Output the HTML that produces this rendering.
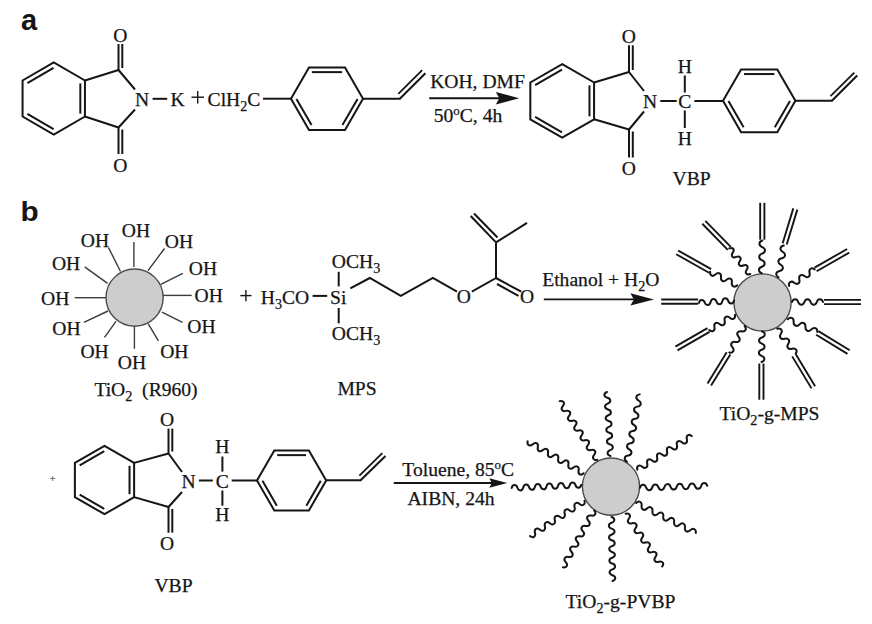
<!DOCTYPE html>
<html><head><meta charset="utf-8"><style>
html,body{margin:0;padding:0;background:#fff;}
svg{display:block;}
</style></head><body>
<svg width="872" height="624" viewBox="0 0 872 624">
<rect width="872" height="624" fill="#fff"/>
<text x="21" y="29.8" font-family="Liberation Sans" font-size="29" font-weight="bold" text-anchor="start" fill="#151515" stroke="#151515" stroke-width="0" >a</text>
<polyline points="53.75,62.5 84.93,80.5 84.93,116.5 53.75,134.5 22.57,116.5 22.57,80.5 53.75,62.5 84.93,80.5" fill="none" stroke="#151515" stroke-width="2.0" stroke-linejoin="miter"/>
<line x1="27.38" y1="83.03" x2="53.54" y2="67.93" stroke="#151515" stroke-width="2.0" stroke-linecap="butt"/>
<line x1="80.33" y1="83.4" x2="80.33" y2="113.6" stroke="#151515" stroke-width="2.0" stroke-linecap="butt"/>
<line x1="53.54" y1="129.07" x2="27.38" y2="113.97" stroke="#151515" stroke-width="2.0" stroke-linecap="butt"/>
<line x1="84.93" y1="80.5" x2="118.5" y2="70" stroke="#151515" stroke-width="2.0" stroke-linecap="butt"/>
<line x1="84.93" y1="116.5" x2="118.5" y2="127.5" stroke="#151515" stroke-width="2.0" stroke-linecap="butt"/>
<line x1="118.5" y1="70" x2="135" y2="89.5" stroke="#151515" stroke-width="2.0" stroke-linecap="butt"/>
<line x1="118.5" y1="127.5" x2="135" y2="109.5" stroke="#151515" stroke-width="2.0" stroke-linecap="butt"/>
<line x1="118.5" y1="70.5" x2="118.5" y2="44" stroke="#151515" stroke-width="2.0" stroke-linecap="butt"/>
<line x1="122.3" y1="68" x2="122.3" y2="44" stroke="#151515" stroke-width="2.0" stroke-linecap="butt"/>
<line x1="118.5" y1="127" x2="118.5" y2="154" stroke="#151515" stroke-width="2.0" stroke-linecap="butt"/>
<line x1="122.3" y1="129.5" x2="122.3" y2="154" stroke="#151515" stroke-width="2.0" stroke-linecap="butt"/>
<text x="120.4" y="41.5" font-family="Liberation Serif" font-size="19.6" font-weight="normal" text-anchor="middle" fill="#151515" stroke="#151515" stroke-width="0.25" >O</text>
<text x="120.4" y="171.5" font-family="Liberation Serif" font-size="19.6" font-weight="normal" text-anchor="middle" fill="#151515" stroke="#151515" stroke-width="0.25" >O</text>
<text x="142.2" y="106" font-family="Liberation Serif" font-size="19.6" font-weight="normal" text-anchor="middle" fill="#151515" stroke="#151515" stroke-width="0.25" >N</text>
<line x1="152.6" y1="98.8" x2="167.2" y2="98.8" stroke="#151515" stroke-width="2.0" stroke-linecap="butt"/>
<text x="177.6" y="106" font-family="Liberation Serif" font-size="19.6" font-weight="normal" text-anchor="middle" fill="#151515" stroke="#151515" stroke-width="0.25" >K</text>
<line x1="191.5" y1="97.2" x2="204" y2="97.2" stroke="#151515" stroke-width="1.4" stroke-linecap="butt"/>
<line x1="197.7" y1="91" x2="197.7" y2="103.4" stroke="#151515" stroke-width="1.4" stroke-linecap="butt"/>
<text x="234" y="106" font-family="Liberation Serif" font-size="19.6" font-weight="normal" text-anchor="middle" fill="#151515" stroke="#151515" stroke-width="0.25" >ClH<tspan dy="5" font-size="14.11">2</tspan><tspan dy="-5">​</tspan>C</text>
<line x1="263" y1="98.7" x2="291" y2="98.7" stroke="#151515" stroke-width="2.0" stroke-linecap="butt"/>
<polyline points="291,98.7 309,67.52 345,67.52 363,98.7 345,129.88 309,129.88 291,98.7 309,67.52" fill="none" stroke="#151515" stroke-width="2.0" stroke-linejoin="miter"/>
<line x1="311.9" y1="72.12" x2="342.1" y2="72.12" stroke="#151515" stroke-width="2.0" stroke-linecap="butt"/>
<line x1="357.57" y1="98.91" x2="342.47" y2="125.07" stroke="#151515" stroke-width="2.0" stroke-linecap="butt"/>
<line x1="311.53" y1="125.07" x2="296.43" y2="98.91" stroke="#151515" stroke-width="2.0" stroke-linecap="butt"/>
<line x1="363" y1="98.7" x2="400.5" y2="98.7" stroke="#151515" stroke-width="2.0" stroke-linecap="butt"/>
<line x1="399.8" y1="98.7" x2="425.4" y2="73.3" stroke="#151515" stroke-width="2.0" stroke-linecap="butt"/>
<line x1="398.3" y1="93.8" x2="422.2" y2="70.1" stroke="#151515" stroke-width="1.8" stroke-linecap="butt"/>
<line x1="429.2" y1="98.2" x2="500.8" y2="98.2" stroke="#151515" stroke-width="1.9" stroke-linecap="butt"/>
<polygon points="519.3,98.2 495.8,92 499.3,98.2 495.8,104.4" fill="#151515"/>
<text x="477.5" y="87.8" font-family="Liberation Serif" font-size="19.6" font-weight="normal" text-anchor="middle" fill="#151515" stroke="#151515" stroke-width="0.25" >KOH, DMF</text>
<text x="468" y="121.7" font-family="Liberation Serif" font-size="19.6" font-weight="normal" text-anchor="middle" fill="#151515" stroke="#151515" stroke-width="0.25" >50<tspan dy="-7" font-size="12.94">o</tspan><tspan dy="7">​</tspan>C, 4h</text>
<polyline points="562.2,64.1 594.07,82.5 594.07,119.3 562.2,137.7 530.33,119.3 530.33,82.5 562.2,64.1 594.07,82.5" fill="none" stroke="#151515" stroke-width="2.0" stroke-linejoin="miter"/>
<line x1="535.14" y1="85.03" x2="561.99" y2="69.53" stroke="#151515" stroke-width="2.0" stroke-linecap="butt"/>
<line x1="589.47" y1="85.4" x2="589.47" y2="116.4" stroke="#151515" stroke-width="2.0" stroke-linecap="butt"/>
<line x1="561.99" y1="132.27" x2="535.14" y2="116.77" stroke="#151515" stroke-width="2.0" stroke-linecap="butt"/>
<line x1="594.07" y1="82.5" x2="629" y2="72" stroke="#151515" stroke-width="2.0" stroke-linecap="butt"/>
<line x1="594.07" y1="119.3" x2="629" y2="129.5" stroke="#151515" stroke-width="2.0" stroke-linecap="butt"/>
<line x1="629" y1="72" x2="644" y2="91" stroke="#151515" stroke-width="2.0" stroke-linecap="butt"/>
<line x1="629" y1="129.5" x2="644" y2="111.5" stroke="#151515" stroke-width="2.0" stroke-linecap="butt"/>
<line x1="629" y1="72.5" x2="629" y2="45.3" stroke="#151515" stroke-width="2.0" stroke-linecap="butt"/>
<line x1="632.8" y1="70" x2="632.8" y2="45.3" stroke="#151515" stroke-width="2.0" stroke-linecap="butt"/>
<line x1="629" y1="129" x2="629" y2="157.5" stroke="#151515" stroke-width="2.0" stroke-linecap="butt"/>
<line x1="632.8" y1="131.5" x2="632.8" y2="157.5" stroke="#151515" stroke-width="2.0" stroke-linecap="butt"/>
<text x="628.8" y="42.8" font-family="Liberation Serif" font-size="19.6" font-weight="normal" text-anchor="middle" fill="#151515" stroke="#151515" stroke-width="0.25" >O</text>
<text x="628.8" y="175" font-family="Liberation Serif" font-size="19.6" font-weight="normal" text-anchor="middle" fill="#151515" stroke="#151515" stroke-width="0.25" >O</text>
<text x="650" y="108.2" font-family="Liberation Serif" font-size="19.6" font-weight="normal" text-anchor="middle" fill="#151515" stroke="#151515" stroke-width="0.25" >N</text>
<line x1="660.3" y1="101" x2="676.7" y2="101" stroke="#151515" stroke-width="2.0" stroke-linecap="butt"/>
<text x="684.8" y="108" font-family="Liberation Serif" font-size="19.6" font-weight="normal" text-anchor="middle" fill="#151515" stroke="#151515" stroke-width="0.25" >C</text>
<text x="684.8" y="73" font-family="Liberation Serif" font-size="19.6" font-weight="normal" text-anchor="middle" fill="#151515" stroke="#151515" stroke-width="0.25" >H</text>
<text x="684.8" y="145" font-family="Liberation Serif" font-size="19.6" font-weight="normal" text-anchor="middle" fill="#151515" stroke="#151515" stroke-width="0.25" >H</text>
<line x1="684.8" y1="75.5" x2="684.8" y2="92.5" stroke="#151515" stroke-width="2.0" stroke-linecap="butt"/>
<line x1="684.8" y1="110.5" x2="684.8" y2="128" stroke="#151515" stroke-width="2.0" stroke-linecap="butt"/>
<line x1="694.4" y1="101" x2="723" y2="101" stroke="#151515" stroke-width="2.0" stroke-linecap="butt"/>
<polyline points="723,100.8 741.1,69.45 777.3,69.45 795.4,100.8 777.3,132.15 741.1,132.15 723,100.8 741.1,69.45" fill="none" stroke="#151515" stroke-width="2.0" stroke-linejoin="miter"/>
<line x1="744" y1="74.05" x2="774.4" y2="74.05" stroke="#151515" stroke-width="2.0" stroke-linecap="butt"/>
<line x1="789.97" y1="101.01" x2="774.77" y2="127.34" stroke="#151515" stroke-width="2.0" stroke-linecap="butt"/>
<line x1="743.63" y1="127.34" x2="728.43" y2="101.01" stroke="#151515" stroke-width="2.0" stroke-linecap="butt"/>
<line x1="795.4" y1="100.8" x2="832.6" y2="100.8" stroke="#151515" stroke-width="2.0" stroke-linecap="butt"/>
<line x1="831.9" y1="100.8" x2="857.2" y2="75.5" stroke="#151515" stroke-width="2.0" stroke-linecap="butt"/>
<line x1="830.5" y1="96.1" x2="854.3" y2="72.6" stroke="#151515" stroke-width="1.8" stroke-linecap="butt"/>
<text x="691.6" y="184.9" font-family="Liberation Serif" font-size="19.6" font-weight="normal" text-anchor="middle" fill="#151515" stroke="#151515" stroke-width="0.25" >VBP</text>
<text transform="translate(20.6,221.3) scale(1.1,1)" x="0" y="0" font-family="Liberation Sans" font-size="27" font-weight="bold" fill="#151515">b</text>
<line x1="133.9" y1="266.9" x2="133.9" y2="242.1" stroke="#3c3c3c" stroke-width="1.4" stroke-linecap="butt"/>
<line x1="148" y1="270.6" x2="164.5" y2="248.5" stroke="#3c3c3c" stroke-width="1.4" stroke-linecap="butt"/>
<line x1="160.8" y1="284.3" x2="182.8" y2="273.3" stroke="#3c3c3c" stroke-width="1.4" stroke-linecap="butt"/>
<line x1="163" y1="295.4" x2="191.7" y2="295.4" stroke="#3c3c3c" stroke-width="1.4" stroke-linecap="butt"/>
<line x1="161.9" y1="312.1" x2="182.5" y2="322.4" stroke="#3c3c3c" stroke-width="1.4" stroke-linecap="butt"/>
<line x1="148.1" y1="323.6" x2="158.4" y2="340.8" stroke="#3c3c3c" stroke-width="1.4" stroke-linecap="butt"/>
<line x1="134.4" y1="327" x2="134.4" y2="348.8" stroke="#3c3c3c" stroke-width="1.4" stroke-linecap="butt"/>
<line x1="116" y1="321.3" x2="104.5" y2="337.3" stroke="#3c3c3c" stroke-width="1.4" stroke-linecap="butt"/>
<line x1="108" y1="311" x2="83.9" y2="322.4" stroke="#3c3c3c" stroke-width="1.4" stroke-linecap="butt"/>
<line x1="105.7" y1="297.7" x2="74.7" y2="297.7" stroke="#3c3c3c" stroke-width="1.4" stroke-linecap="butt"/>
<line x1="107.6" y1="283.4" x2="84.7" y2="266.9" stroke="#3c3c3c" stroke-width="1.4" stroke-linecap="butt"/>
<line x1="120.5" y1="271.5" x2="108.5" y2="247.6" stroke="#3c3c3c" stroke-width="1.4" stroke-linecap="butt"/>
<circle cx="134.6" cy="297.6" r="28.6" fill="#cdcdcd" stroke="#4a4a4a" stroke-width="1.4"/>
<text x="136" y="236.6" font-family="Liberation Serif" font-size="19.6" font-weight="normal" text-anchor="middle" fill="#151515" stroke="#151515" stroke-width="0.25" >OH</text>
<text x="179" y="247.6" font-family="Liberation Serif" font-size="19.6" font-weight="normal" text-anchor="middle" fill="#151515" stroke="#151515" stroke-width="0.25" >OH</text>
<text x="203" y="275.1" font-family="Liberation Serif" font-size="19.6" font-weight="normal" text-anchor="middle" fill="#151515" stroke="#151515" stroke-width="0.25" >OH</text>
<text x="208.7" y="302.2" font-family="Liberation Serif" font-size="19.6" font-weight="normal" text-anchor="middle" fill="#151515" stroke="#151515" stroke-width="0.25" >OH</text>
<text x="201.5" y="332.8" font-family="Liberation Serif" font-size="19.6" font-weight="normal" text-anchor="middle" fill="#151515" stroke="#151515" stroke-width="0.25" >OH</text>
<text x="174.3" y="357.5" font-family="Liberation Serif" font-size="19.6" font-weight="normal" text-anchor="middle" fill="#151515" stroke="#151515" stroke-width="0.25" >OH</text>
<text x="132" y="369" font-family="Liberation Serif" font-size="19.6" font-weight="normal" text-anchor="middle" fill="#151515" stroke="#151515" stroke-width="0.25" >OH</text>
<text x="94.6" y="357.5" font-family="Liberation Serif" font-size="19.6" font-weight="normal" text-anchor="middle" fill="#151515" stroke="#151515" stroke-width="0.25" >OH</text>
<text x="66.4" y="335" font-family="Liberation Serif" font-size="19.6" font-weight="normal" text-anchor="middle" fill="#151515" stroke="#151515" stroke-width="0.25" >OH</text>
<text x="55.2" y="305.2" font-family="Liberation Serif" font-size="19.6" font-weight="normal" text-anchor="middle" fill="#151515" stroke="#151515" stroke-width="0.25" >OH</text>
<text x="66.1" y="269.8" font-family="Liberation Serif" font-size="19.6" font-weight="normal" text-anchor="middle" fill="#151515" stroke="#151515" stroke-width="0.25" >OH</text>
<text x="95" y="246.7" font-family="Liberation Serif" font-size="19.6" font-weight="normal" text-anchor="middle" fill="#151515" stroke="#151515" stroke-width="0.25" >OH</text>
<text x="146" y="396.1" font-family="Liberation Serif" font-size="19.6" font-weight="normal" text-anchor="middle" fill="#151515" stroke="#151515" stroke-width="0.25" xml:space="preserve">TiO<tspan dy="5" font-size="14.11">2</tspan><tspan dy="-5">​</tspan>  (R960)</text>
<line x1="240.3" y1="295.6" x2="251.5" y2="295.6" stroke="#151515" stroke-width="1.4" stroke-linecap="butt"/>
<line x1="245.9" y1="290" x2="245.9" y2="301.2" stroke="#151515" stroke-width="1.4" stroke-linecap="butt"/>
<text x="285" y="304" font-family="Liberation Serif" font-size="19.6" font-weight="normal" text-anchor="middle" fill="#151515" stroke="#151515" stroke-width="0.25" >H<tspan dy="5" font-size="14.11">3</tspan><tspan dy="-5">​</tspan>CO</text>
<line x1="312.6" y1="295.9" x2="327.2" y2="295.9" stroke="#151515" stroke-width="2.0" stroke-linecap="butt"/>
<text x="338.2" y="304" font-family="Liberation Serif" font-size="19.6" font-weight="normal" text-anchor="middle" fill="#151515" stroke="#151515" stroke-width="0.25" >Si</text>
<line x1="338.7" y1="271.8" x2="338.7" y2="286.4" stroke="#151515" stroke-width="2.0" stroke-linecap="butt"/>
<line x1="338.7" y1="308" x2="338.7" y2="323.4" stroke="#151515" stroke-width="2.0" stroke-linecap="butt"/>
<text x="356" y="267.5" font-family="Liberation Serif" font-size="19.6" font-weight="normal" text-anchor="middle" fill="#151515" stroke="#151515" stroke-width="0.25" >OCH<tspan dy="5" font-size="14.11">3</tspan><tspan dy="-5">​</tspan></text>
<text x="356" y="340" font-family="Liberation Serif" font-size="19.6" font-weight="normal" text-anchor="middle" fill="#151515" stroke="#151515" stroke-width="0.25" >OCH<tspan dy="5" font-size="14.11">3</tspan><tspan dy="-5">​</tspan></text>
<polyline points="350.3,288.3 369.8,278 400.8,295.9 432.9,278 457,291.7" fill="none" stroke="#151515" stroke-width="2.0" stroke-linejoin="miter"/>
<text x="463.9" y="303.2" font-family="Liberation Serif" font-size="19.6" font-weight="normal" text-anchor="middle" fill="#151515" stroke="#151515" stroke-width="0.25" >O</text>
<line x1="471.9" y1="291.7" x2="496" y2="278" stroke="#151515" stroke-width="2.0" stroke-linecap="butt"/>
<line x1="496" y1="278" x2="521.2" y2="291.7" stroke="#151515" stroke-width="2.0" stroke-linecap="butt"/>
<line x1="497" y1="284" x2="518.5" y2="295.8" stroke="#151515" stroke-width="2.0" stroke-linecap="butt"/>
<text x="527" y="303.2" font-family="Liberation Serif" font-size="19.6" font-weight="normal" text-anchor="middle" fill="#151515" stroke="#151515" stroke-width="0.25" >O</text>
<line x1="496" y1="278" x2="496" y2="242.4" stroke="#151515" stroke-width="2.0" stroke-linecap="butt"/>
<line x1="496" y1="242.4" x2="527" y2="222.9" stroke="#151515" stroke-width="2.0" stroke-linecap="butt"/>
<line x1="496" y1="242.4" x2="470.7" y2="216" stroke="#151515" stroke-width="2.0" stroke-linecap="butt"/>
<line x1="497.5" y1="237.5" x2="474" y2="213.5" stroke="#151515" stroke-width="2.0" stroke-linecap="butt"/>
<text x="357" y="395.2" font-family="Liberation Serif" font-size="19.6" font-weight="normal" text-anchor="middle" fill="#151515" stroke="#151515" stroke-width="0.25" >MPS</text>
<line x1="543.8" y1="299.4" x2="635.4" y2="299.4" stroke="#151515" stroke-width="1.9" stroke-linecap="butt"/>
<polygon points="653.9,299.4 630.4,293.2 633.9,299.4 630.4,305.6" fill="#151515"/>
<text x="600.8" y="286.1" font-family="Liberation Serif" font-size="19.6" font-weight="normal" text-anchor="middle" fill="#151515" stroke="#151515" stroke-width="0.25" >Ethanol + H<tspan dy="5" font-size="14.11">2</tspan><tspan dy="-5">​</tspan>O</text>
<circle cx="762.5" cy="302.5" r="28.6" fill="#cdcdcd" stroke="#4a4a4a" stroke-width="1.4"/>
<path transform="translate(761.7,273.3) rotate(-88.95)" d="M0,0 c1.31,-3.73 5.25,-3.73 6.56,0 c1.31,3.73 5.25,3.73 6.56,0 c1.31,-3.73 5.25,-3.73 6.56,0 c1.31,3.73 5.25,3.73 6.56,0 c1.31,-3.73 5.25,-3.73 6.56,0" fill="none" stroke="#151515" stroke-width="2.0" stroke-linecap="round"/>
<line x1="760.2" y1="239.7" x2="760.2" y2="202.8" stroke="#151515" stroke-width="1.9" stroke-linecap="butt"/>
<line x1="764.4" y1="239.7" x2="764.4" y2="202.8" stroke="#151515" stroke-width="1.9" stroke-linecap="butt"/>
<path transform="translate(778.5,277.3) rotate(-80.51)" d="M0,0 c1.29,-3.73 5.14,-3.73 6.43,0 c1.29,3.73 5.14,3.73 6.43,0 c1.29,-3.73 5.14,-3.73 6.43,0 c1.29,3.73 5.14,3.73 6.43,0 c1.29,-3.73 5.14,-3.73 6.43,0" fill="none" stroke="#151515" stroke-width="2.0" stroke-linecap="round"/>
<line x1="782.69" y1="243.19" x2="793.29" y2="208.39" stroke="#151515" stroke-width="1.9" stroke-linecap="butt"/>
<line x1="786.71" y1="244.41" x2="797.31" y2="209.61" stroke="#151515" stroke-width="1.9" stroke-linecap="butt"/>
<path transform="translate(789.1,286.1) rotate(-33.12)" d="M0,0 c1.22,-3.73 4.89,-3.73 6.11,0 c1.22,3.73 4.89,3.73 6.11,0 c1.22,-3.73 4.89,-3.73 6.11,0 c1.22,3.73 4.89,3.73 6.11,0 c1.22,-3.73 4.89,-3.73 6.11,0" fill="none" stroke="#151515" stroke-width="2.0" stroke-linecap="round"/>
<line x1="814.56" y1="267.58" x2="847.16" y2="248.98" stroke="#151515" stroke-width="1.9" stroke-linecap="butt"/>
<line x1="816.64" y1="271.22" x2="849.24" y2="252.62" stroke="#151515" stroke-width="1.9" stroke-linecap="butt"/>
<path transform="translate(792,302) rotate(0)" d="M0,0 c1.24,-3.73 4.96,-3.73 6.2,0 c1.24,3.73 4.96,3.73 6.2,0 c1.24,-3.73 4.96,-3.73 6.2,0 c1.24,3.73 4.96,3.73 6.2,0 c1.24,-3.73 4.96,-3.73 6.2,0" fill="none" stroke="#151515" stroke-width="2.0" stroke-linecap="round"/>
<line x1="824" y1="299.9" x2="861" y2="299.9" stroke="#151515" stroke-width="1.9" stroke-linecap="butt"/>
<line x1="824" y1="304.1" x2="861" y2="304.1" stroke="#151515" stroke-width="1.9" stroke-linecap="butt"/>
<path transform="translate(787.7,319.2) rotate(23.39)" d="M0,0 c1.29,-3.73 5.16,-3.73 6.45,0 c1.29,3.73 5.16,3.73 6.45,0 c1.29,-3.73 5.16,-3.73 6.45,0 c1.29,3.73 5.16,3.73 6.45,0 c1.29,-3.73 5.16,-3.73 6.45,0" fill="none" stroke="#151515" stroke-width="2.0" stroke-linecap="round"/>
<line x1="818.4" y1="331.11" x2="849.7" y2="350.31" stroke="#151515" stroke-width="1.9" stroke-linecap="butt"/>
<line x1="816.2" y1="334.69" x2="847.5" y2="353.89" stroke="#151515" stroke-width="1.9" stroke-linecap="butt"/>
<path transform="translate(777.2,328.8) rotate(53.39)" d="M0,0 c1.24,-3.73 4.96,-3.73 6.2,0 c1.24,3.73 4.96,3.73 6.2,0 c1.24,-3.73 4.96,-3.73 6.2,0 c1.24,3.73 4.96,3.73 6.2,0 c1.24,-3.73 4.96,-3.73 6.2,0" fill="none" stroke="#151515" stroke-width="2.0" stroke-linecap="round"/>
<line x1="795.8" y1="354.22" x2="815.1" y2="386.22" stroke="#151515" stroke-width="1.9" stroke-linecap="butt"/>
<line x1="792.2" y1="356.38" x2="811.5" y2="388.38" stroke="#151515" stroke-width="1.9" stroke-linecap="butt"/>
<path transform="translate(762,331.3) rotate(90.93)" d="M0,0 c1.23,-3.73 4.91,-3.73 6.14,0 c1.23,3.73 4.91,3.73 6.14,0 c1.23,-3.73 4.91,-3.73 6.14,0 c1.23,3.73 4.91,3.73 6.14,0 c1.23,-3.73 4.91,-3.73 6.14,0" fill="none" stroke="#151515" stroke-width="2.0" stroke-linecap="round"/>
<line x1="763.5" y1="363.5" x2="763.5" y2="399.7" stroke="#151515" stroke-width="1.9" stroke-linecap="butt"/>
<line x1="759.3" y1="363.5" x2="759.3" y2="399.7" stroke="#151515" stroke-width="1.9" stroke-linecap="butt"/>
<path transform="translate(744.6,326) rotate(120)" d="M0,0 c1.22,-3.73 4.9,-3.73 6.12,0 c1.22,3.73 4.9,3.73 6.12,0 c1.22,-3.73 4.9,-3.73 6.12,0 c1.22,3.73 4.9,3.73 6.12,0 c1.22,-3.73 4.9,-3.73 6.12,0" fill="none" stroke="#151515" stroke-width="2.0" stroke-linecap="round"/>
<line x1="730.29" y1="354.4" x2="711.09" y2="385.6" stroke="#151515" stroke-width="1.9" stroke-linecap="butt"/>
<line x1="726.71" y1="352.2" x2="707.51" y2="383.4" stroke="#151515" stroke-width="1.9" stroke-linecap="butt"/>
<path transform="translate(734.9,314.8) rotate(149.3)" d="M0,0 c1.19,-3.73 4.76,-3.73 5.95,0 c1.19,3.73 4.76,3.73 5.95,0 c1.19,-3.73 4.76,-3.73 5.95,0 c1.19,3.73 4.76,3.73 5.95,0 c1.19,-3.73 4.76,-3.73 5.95,0" fill="none" stroke="#151515" stroke-width="2.0" stroke-linecap="round"/>
<line x1="709.55" y1="331.82" x2="677.45" y2="350.32" stroke="#151515" stroke-width="1.9" stroke-linecap="butt"/>
<line x1="707.45" y1="328.18" x2="675.35" y2="346.68" stroke="#151515" stroke-width="1.9" stroke-linecap="butt"/>
<path transform="translate(734.1,300.5) rotate(176.1)" d="M0,0 c1.18,-3.73 4.7,-3.73 5.88,0 c1.18,3.73 4.7,3.73 5.88,0 c1.18,-3.73 4.7,-3.73 5.88,0 c1.18,3.73 4.7,3.73 5.88,0 c1.18,-3.73 4.7,-3.73 5.88,0 c1.18,3.73 4.7,3.73 5.88,0" fill="none" stroke="#151515" stroke-width="2.0" stroke-linecap="round"/>
<line x1="698.1" y1="303.7" x2="661.2" y2="303.7" stroke="#151515" stroke-width="1.9" stroke-linecap="butt"/>
<line x1="698.1" y1="299.5" x2="661.2" y2="299.5" stroke="#151515" stroke-width="1.9" stroke-linecap="butt"/>
<path transform="translate(737.3,285.3) rotate(-153.43)" d="M0,0 c1.22,-3.73 4.87,-3.73 6.08,0 c1.22,3.73 4.87,3.73 6.08,0 c1.22,-3.73 4.87,-3.73 6.08,0 c1.22,3.73 4.87,3.73 6.08,0 c1.22,-3.73 4.87,-3.73 6.08,0" fill="none" stroke="#151515" stroke-width="2.0" stroke-linecap="round"/>
<line x1="709.07" y1="272.73" x2="676.17" y2="254.23" stroke="#151515" stroke-width="1.9" stroke-linecap="butt"/>
<line x1="711.13" y1="269.07" x2="678.23" y2="250.57" stroke="#151515" stroke-width="1.9" stroke-linecap="butt"/>
<path transform="translate(750.2,274) rotate(-129.23)" d="M0,0 c1.1,-3.73 4.41,-3.73 5.51,0 c1.1,3.73 4.41,3.73 5.51,0 c1.1,-3.73 4.41,-3.73 5.51,0 c1.1,3.73 4.41,3.73 5.51,0 c1.1,-3.73 4.41,-3.73 5.51,0 c1.1,3.73 4.41,3.73 5.51,0" fill="none" stroke="#151515" stroke-width="2.0" stroke-linecap="round"/>
<line x1="727.8" y1="249.87" x2="702.3" y2="223.77" stroke="#151515" stroke-width="1.9" stroke-linecap="butt"/>
<line x1="730.8" y1="246.93" x2="705.3" y2="220.83" stroke="#151515" stroke-width="1.9" stroke-linecap="butt"/>
<text x="769.5" y="420.3" font-family="Liberation Serif" font-size="19.6" font-weight="normal" text-anchor="middle" fill="#151515" stroke="#151515" stroke-width="0.25" >TiO<tspan dy="5" font-size="14.11">2</tspan><tspan dy="-5">​</tspan>-g-MPS</text>
<text x="52.5" y="482" font-family="Liberation Serif" font-size="10" font-weight="normal" text-anchor="middle" fill="#555" stroke="#555" stroke-width="0.25" >+</text>
<polyline points="104.5,445.8 134.12,462.9 134.12,497.1 104.5,514.2 74.88,497.1 74.88,462.9 104.5,445.8 134.12,462.9" fill="none" stroke="#151515" stroke-width="2.0" stroke-linejoin="miter"/>
<line x1="79.69" y1="465.43" x2="104.29" y2="451.23" stroke="#151515" stroke-width="2.0" stroke-linecap="butt"/>
<line x1="129.52" y1="465.8" x2="129.52" y2="494.2" stroke="#151515" stroke-width="2.0" stroke-linecap="butt"/>
<line x1="104.29" y1="508.77" x2="79.69" y2="494.57" stroke="#151515" stroke-width="2.0" stroke-linecap="butt"/>
<line x1="134.12" y1="462.9" x2="168.5" y2="453.5" stroke="#151515" stroke-width="2.0" stroke-linecap="butt"/>
<line x1="134.12" y1="497.1" x2="168.5" y2="507" stroke="#151515" stroke-width="2.0" stroke-linecap="butt"/>
<line x1="168.5" y1="453.5" x2="182" y2="472" stroke="#151515" stroke-width="2.0" stroke-linecap="butt"/>
<line x1="168.5" y1="507" x2="182" y2="492" stroke="#151515" stroke-width="2.0" stroke-linecap="butt"/>
<line x1="168.5" y1="454" x2="168.5" y2="428.6" stroke="#151515" stroke-width="2.0" stroke-linecap="butt"/>
<line x1="172.3" y1="451.5" x2="172.3" y2="428.6" stroke="#151515" stroke-width="2.0" stroke-linecap="butt"/>
<line x1="168.5" y1="506.5" x2="168.5" y2="532.7" stroke="#151515" stroke-width="2.0" stroke-linecap="butt"/>
<line x1="172.3" y1="509" x2="172.3" y2="532.7" stroke="#151515" stroke-width="2.0" stroke-linecap="butt"/>
<text x="167" y="426.1" font-family="Liberation Serif" font-size="19.6" font-weight="normal" text-anchor="middle" fill="#151515" stroke="#151515" stroke-width="0.25" >O</text>
<text x="167" y="550.2" font-family="Liberation Serif" font-size="19.6" font-weight="normal" text-anchor="middle" fill="#151515" stroke="#151515" stroke-width="0.25" >O</text>
<text x="188.5" y="488.2" font-family="Liberation Serif" font-size="19.6" font-weight="normal" text-anchor="middle" fill="#151515" stroke="#151515" stroke-width="0.25" >N</text>
<line x1="198.9" y1="480.5" x2="212.8" y2="480.5" stroke="#151515" stroke-width="2.0" stroke-linecap="butt"/>
<text x="222.4" y="488.2" font-family="Liberation Serif" font-size="19.6" font-weight="normal" text-anchor="middle" fill="#151515" stroke="#151515" stroke-width="0.25" >C</text>
<text x="222.4" y="453" font-family="Liberation Serif" font-size="19.6" font-weight="normal" text-anchor="middle" fill="#151515" stroke="#151515" stroke-width="0.25" >H</text>
<text x="222.4" y="521" font-family="Liberation Serif" font-size="19.6" font-weight="normal" text-anchor="middle" fill="#151515" stroke="#151515" stroke-width="0.25" >H</text>
<line x1="222.4" y1="456.5" x2="222.4" y2="471.6" stroke="#151515" stroke-width="2.0" stroke-linecap="butt"/>
<line x1="222.4" y1="490.5" x2="222.4" y2="505.7" stroke="#151515" stroke-width="2.0" stroke-linecap="butt"/>
<line x1="231.7" y1="480.5" x2="257" y2="480.5" stroke="#151515" stroke-width="2.0" stroke-linecap="butt"/>
<polyline points="257,480.5 274.3,450.54 308.9,450.54 326.2,480.5 308.9,510.46 274.3,510.46 257,480.5 274.3,450.54" fill="none" stroke="#151515" stroke-width="2.0" stroke-linejoin="miter"/>
<line x1="277.2" y1="455.14" x2="306" y2="455.14" stroke="#151515" stroke-width="2.0" stroke-linecap="butt"/>
<line x1="320.77" y1="480.71" x2="306.37" y2="505.65" stroke="#151515" stroke-width="2.0" stroke-linecap="butt"/>
<line x1="276.83" y1="505.65" x2="262.43" y2="480.71" stroke="#151515" stroke-width="2.0" stroke-linecap="butt"/>
<line x1="326.3" y1="480.3" x2="361.3" y2="480.3" stroke="#151515" stroke-width="2.0" stroke-linecap="butt"/>
<line x1="360.6" y1="480.3" x2="385.5" y2="456" stroke="#151515" stroke-width="2.0" stroke-linecap="butt"/>
<line x1="359.4" y1="475.7" x2="382.3" y2="453.2" stroke="#151515" stroke-width="1.8" stroke-linecap="butt"/>
<text x="173.5" y="591.5" font-family="Liberation Serif" font-size="19.6" font-weight="normal" text-anchor="middle" fill="#151515" stroke="#151515" stroke-width="0.25" >VBP</text>
<line x1="393.8" y1="483" x2="493.3" y2="483" stroke="#151515" stroke-width="1.8" stroke-linecap="butt"/>
<polygon points="507.3,483 489.3,478.2 491.8,483 489.3,487.8" fill="#151515"/>
<text x="458.2" y="476.3" font-family="Liberation Serif" font-size="19.6" font-weight="normal" text-anchor="middle" fill="#151515" stroke="#151515" stroke-width="0.25" >Toluene, 85<tspan dy="-7" font-size="12.94">o</tspan><tspan dy="7">​</tspan>C</text>
<text x="451" y="504.5" font-family="Liberation Serif" font-size="19.6" font-weight="normal" text-anchor="middle" fill="#151515" stroke="#151515" stroke-width="0.25" >AIBN, 24h</text>
<circle cx="611" cy="486.6" r="28.6" fill="#cdcdcd" stroke="#4a4a4a" stroke-width="1.4"/>
<path transform="translate(610.5,456) rotate(-93.13)" d="M0,0 c1.17,-3.73 4.66,-3.73 5.83,0 c1.17,3.73 4.66,3.73 5.83,0 c1.17,-3.73 4.66,-3.73 5.83,0 c1.17,3.73 4.66,3.73 5.83,0 c1.17,-3.73 4.66,-3.73 5.83,0 c1.17,3.73 4.66,3.73 5.83,0 c1.17,-3.73 4.66,-3.73 5.83,0 c1.17,3.73 4.66,3.73 5.83,0 c1.17,-3.73 4.66,-3.73 5.83,0 c1.17,3.73 4.66,3.73 5.83,0 c1.17,-3.73 4.66,-3.73 5.83,0" fill="none" stroke="#151515" stroke-width="2.0" stroke-linecap="round"/>
<path transform="translate(626.9,461.7) rotate(-79.23)" d="M0,0 c1.25,-3.73 4.98,-3.73 6.23,0 c1.25,3.73 4.98,3.73 6.23,0 c1.25,-3.73 4.98,-3.73 6.23,0 c1.25,3.73 4.98,3.73 6.23,0 c1.25,-3.73 4.98,-3.73 6.23,0 c1.25,3.73 4.98,3.73 6.23,0 c1.25,-3.73 4.98,-3.73 6.23,0 c1.25,3.73 4.98,3.73 6.23,0 c1.25,-3.73 4.98,-3.73 6.23,0 c1.25,3.73 4.98,3.73 6.23,0 c1.25,-3.73 4.98,-3.73 6.23,0" fill="none" stroke="#151515" stroke-width="2.0" stroke-linecap="round"/>
<path transform="translate(637.3,469.7) rotate(-31.65)" d="M0,0 c1.16,-3.73 4.66,-3.73 5.82,0 c1.16,3.73 4.66,3.73 5.82,0 c1.16,-3.73 4.66,-3.73 5.82,0 c1.16,3.73 4.66,3.73 5.82,0 c1.16,-3.73 4.66,-3.73 5.82,0 c1.16,3.73 4.66,3.73 5.82,0 c1.16,-3.73 4.66,-3.73 5.82,0 c1.16,3.73 4.66,3.73 5.82,0 c1.16,-3.73 4.66,-3.73 5.82,0 c1.16,3.73 4.66,3.73 5.82,0 c1.16,-3.73 4.66,-3.73 5.82,0" fill="none" stroke="#151515" stroke-width="2.0" stroke-linecap="round"/>
<path transform="translate(640,487.7) rotate(-1.62)" d="M0,0 c1.22,-3.73 4.9,-3.73 6.12,0 c1.22,3.73 4.9,3.73 6.12,0 c1.22,-3.73 4.9,-3.73 6.12,0 c1.22,3.73 4.9,3.73 6.12,0 c1.22,-3.73 4.9,-3.73 6.12,0 c1.22,3.73 4.9,3.73 6.12,0 c1.22,-3.73 4.9,-3.73 6.12,0 c1.22,3.73 4.9,3.73 6.12,0 c1.22,-3.73 4.9,-3.73 6.12,0 c1.22,3.73 4.9,3.73 6.12,0 c1.22,-3.73 4.9,-3.73 6.12,0" fill="none" stroke="#151515" stroke-width="2.0" stroke-linecap="round"/>
<path transform="translate(636.2,503) rotate(26.64)" d="M0,0 c1.21,-3.73 4.85,-3.73 6.06,0 c1.21,3.73 4.85,3.73 6.06,0 c1.21,-3.73 4.85,-3.73 6.06,0 c1.21,3.73 4.85,3.73 6.06,0 c1.21,-3.73 4.85,-3.73 6.06,0 c1.21,3.73 4.85,3.73 6.06,0 c1.21,-3.73 4.85,-3.73 6.06,0 c1.21,3.73 4.85,3.73 6.06,0 c1.21,-3.73 4.85,-3.73 6.06,0 c1.21,3.73 4.85,3.73 6.06,0 c1.21,-3.73 4.85,-3.73 6.06,0" fill="none" stroke="#151515" stroke-width="2.0" stroke-linecap="round"/>
<path transform="translate(625.6,513.7) rotate(55.34)" d="M0,0 c1.17,-3.73 4.67,-3.73 5.84,0 c1.17,3.73 4.67,3.73 5.84,0 c1.17,-3.73 4.67,-3.73 5.84,0 c1.17,3.73 4.67,3.73 5.84,0 c1.17,-3.73 4.67,-3.73 5.84,0 c1.17,3.73 4.67,3.73 5.84,0 c1.17,-3.73 4.67,-3.73 5.84,0 c1.17,3.73 4.67,3.73 5.84,0 c1.17,-3.73 4.67,-3.73 5.84,0 c1.17,3.73 4.67,3.73 5.84,0 c1.17,-3.73 4.67,-3.73 5.84,0" fill="none" stroke="#151515" stroke-width="2.0" stroke-linecap="round"/>
<path transform="translate(611.5,517) rotate(89.1)" d="M0,0 c1.16,-3.73 4.66,-3.73 5.82,0 c1.16,3.73 4.66,3.73 5.82,0 c1.16,-3.73 4.66,-3.73 5.82,0 c1.16,3.73 4.66,3.73 5.82,0 c1.16,-3.73 4.66,-3.73 5.82,0 c1.16,3.73 4.66,3.73 5.82,0 c1.16,-3.73 4.66,-3.73 5.82,0 c1.16,3.73 4.66,3.73 5.82,0 c1.16,-3.73 4.66,-3.73 5.82,0 c1.16,3.73 4.66,3.73 5.82,0 c1.16,-3.73 4.66,-3.73 5.82,0" fill="none" stroke="#151515" stroke-width="2.0" stroke-linecap="round"/>
<path transform="translate(594.1,510.4) rotate(118.74)" d="M0,0 c1.18,-3.73 4.72,-3.73 5.9,0 c1.18,3.73 4.72,3.73 5.9,0 c1.18,-3.73 4.72,-3.73 5.9,0 c1.18,3.73 4.72,3.73 5.9,0 c1.18,-3.73 4.72,-3.73 5.9,0 c1.18,3.73 4.72,3.73 5.9,0 c1.18,-3.73 4.72,-3.73 5.9,0 c1.18,3.73 4.72,3.73 5.9,0 c1.18,-3.73 4.72,-3.73 5.9,0 c1.18,3.73 4.72,3.73 5.9,0 c1.18,-3.73 4.72,-3.73 5.9,0" fill="none" stroke="#151515" stroke-width="2.0" stroke-linecap="round"/>
<path transform="translate(584.5,500.8) rotate(147.07)" d="M0,0 c1.18,-3.73 4.72,-3.73 5.9,0 c1.18,3.73 4.72,3.73 5.9,0 c1.18,-3.73 4.72,-3.73 5.9,0 c1.18,3.73 4.72,3.73 5.9,0 c1.18,-3.73 4.72,-3.73 5.9,0 c1.18,3.73 4.72,3.73 5.9,0 c1.18,-3.73 4.72,-3.73 5.9,0 c1.18,3.73 4.72,3.73 5.9,0 c1.18,-3.73 4.72,-3.73 5.9,0 c1.18,3.73 4.72,3.73 5.9,0 c1.18,-3.73 4.72,-3.73 5.9,0" fill="none" stroke="#151515" stroke-width="2.0" stroke-linecap="round"/>
<path transform="translate(581.3,484.8) rotate(177.37)" d="M0,0 c1.16,-3.73 4.65,-3.73 5.81,0 c1.16,3.73 4.65,3.73 5.81,0 c1.16,-3.73 4.65,-3.73 5.81,0 c1.16,3.73 4.65,3.73 5.81,0 c1.16,-3.73 4.65,-3.73 5.81,0 c1.16,3.73 4.65,3.73 5.81,0 c1.16,-3.73 4.65,-3.73 5.81,0 c1.16,3.73 4.65,3.73 5.81,0 c1.16,-3.73 4.65,-3.73 5.81,0 c1.16,3.73 4.65,3.73 5.81,0 c1.16,-3.73 4.65,-3.73 5.81,0 c1.16,3.73 4.65,3.73 5.81,0" fill="none" stroke="#151515" stroke-width="2.0" stroke-linecap="round"/>
<path transform="translate(583.7,473.3) rotate(-150.3)" d="M0,0 c1.17,-3.73 4.7,-3.73 5.87,0 c1.17,3.73 4.7,3.73 5.87,0 c1.17,-3.73 4.7,-3.73 5.87,0 c1.17,3.73 4.7,3.73 5.87,0 c1.17,-3.73 4.7,-3.73 5.87,0 c1.17,3.73 4.7,3.73 5.87,0 c1.17,-3.73 4.7,-3.73 5.87,0 c1.17,3.73 4.7,3.73 5.87,0 c1.17,-3.73 4.7,-3.73 5.87,0 c1.17,3.73 4.7,3.73 5.87,0 c1.17,-3.73 4.7,-3.73 5.87,0" fill="none" stroke="#151515" stroke-width="2.0" stroke-linecap="round"/>
<path transform="translate(597.3,459.7) rotate(-122.73)" d="M0,0 c1.16,-3.73 4.64,-3.73 5.8,0 c1.16,3.73 4.64,3.73 5.8,0 c1.16,-3.73 4.64,-3.73 5.8,0 c1.16,3.73 4.64,3.73 5.8,0 c1.16,-3.73 4.64,-3.73 5.8,0 c1.16,3.73 4.64,3.73 5.8,0 c1.16,-3.73 4.64,-3.73 5.8,0 c1.16,3.73 4.64,3.73 5.8,0 c1.16,-3.73 4.64,-3.73 5.8,0 c1.16,3.73 4.64,3.73 5.8,0 c1.16,-3.73 4.64,-3.73 5.8,0 c1.16,3.73 4.64,3.73 5.8,0" fill="none" stroke="#151515" stroke-width="2.0" stroke-linecap="round"/>
<text x="620.5" y="607.5" font-family="Liberation Serif" font-size="19.6" font-weight="normal" text-anchor="middle" fill="#151515" stroke="#151515" stroke-width="0.25" >TiO<tspan dy="5" font-size="14.11">2</tspan><tspan dy="-5">​</tspan>-g-PVBP</text>
</svg>
</body></html>
